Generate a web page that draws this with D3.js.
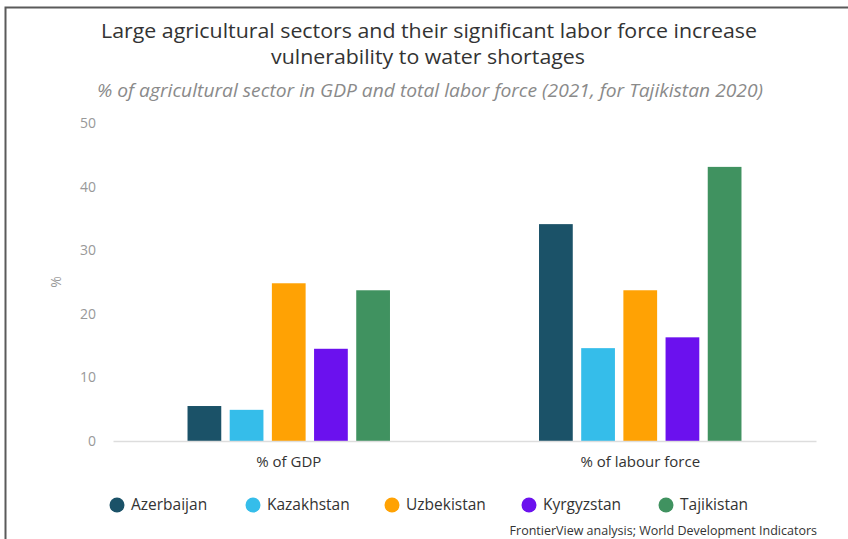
<!DOCTYPE html>
<html>
<head>
<meta charset="utf-8">
<script src="https://cdn.jsdelivr.net/npm/d3@7"></script>
<style>
  html, body { margin: 0; padding: 0; background: #fff; }
  svg { display: block; font-family: "Open Sans", sans-serif; }
</style>
</head>
<body>
<svg id="chart" width="848" height="539"></svg>
<script>
// Agricultural share of GDP and of the labour force, by country
const groups = ["% of GDP", "% of labour force"];
const countries = ["Azerbaijan", "Kazakhstan", "Uzbekistan", "Kyrgyzstan", "Tajikistan"];
const gdpShare = [5.5, 4.9, 24.8, 14.5, 23.7];
const labourShare = [34.1, 14.6, 23.7, 16.3, 43.1];
const countryColors = ["#1b5268", "#35bdea", "#ffa204", "#6b11ee", "#409260"];
const yTicks = [0, 10, 20, 30, 40, 50];

const seriesByGroup = [gdpShare, labourShare];

const svg = d3.select("#chart");
const W = 848, H = 539;
const plot = { left: 113, right: 816, top: 123, bottom: 441 };

// frame lines along the top and left edges
svg.append("path")
  .attr("d", `M5.5,${H} V7.5 H${W}`)
  .attr("fill", "none")
  .attr("stroke", "#5a5a5a")
  .attr("stroke-width", 2);

// title
const title = svg.append("text")
  .attr("text-anchor", "middle")
  .attr("fill", "#333")
  .attr("font-size", 20.5);
title.append("tspan").attr("x", 429).attr("y", 38)
  .attr("textLength", 656).attr("lengthAdjust", "spacingAndGlyphs")
  .text("Large agricultural sectors and their significant labor force increase");
title.append("tspan").attr("x", 428).attr("y", 64)
  .attr("textLength", 314).attr("lengthAdjust", "spacingAndGlyphs")
  .text("vulnerability to water shortages");

svg.append("text")
  .attr("x", 430).attr("y", 97)
  .attr("text-anchor", "middle")
  .attr("fill", "#8a8a8a")
  .attr("font-size", 17.5)
  .attr("font-style", "italic")
  .attr("textLength", 666).attr("lengthAdjust", "spacingAndGlyphs")
  .text("% of agricultural sector in GDP and total labor force (2021, for Tajikistan 2020)");

// scales
const x0 = d3.scaleBand().domain(groups)
  .range([plot.left, plot.right]).paddingInner(0.4).paddingOuter(0.2);
const x1 = d3.scaleBand().domain(countries)
  .range([0, x0.bandwidth()]).paddingInner(0.2).paddingOuter(0.1);
const y = d3.scaleLinear().domain([0, 50]).range([plot.bottom, plot.top]);

// y axis labels (no axis line)
const yAxis = svg.append("g")
  .attr("transform", `translate(${plot.left - 17},0)`)
  .call(d3.axisLeft(y).tickValues(yTicks).tickSize(0).tickPadding(0));
yAxis.select(".domain").remove();
yAxis.selectAll("text")
  .attr("fill", "#999")
  .attr("font-size", 14)
  .attr("font-family", "Open Sans, sans-serif");

svg.append("text")
  .attr("transform", `translate(61,${(plot.top + plot.bottom) / 2}) rotate(-90)`)
  .attr("text-anchor", "middle")
  .attr("fill", "#999")
  .attr("font-size", 14)
  .text("%");

// bars
const bars = svg.append("g");
groups.forEach((g, gi) => {
  bars.append("g")
    .attr("transform", `translate(${x0(g)},0)`)
    .selectAll("rect")
    .data(countries.map((c, ci) => ({ c, v: seriesByGroup[gi][ci], color: countryColors[ci] })))
    .join("rect")
    .attr("x", d => x1(d.c))
    .attr("width", x1.bandwidth())
    .attr("y", d => y(d.v))
    .attr("height", d => y(0) - y(d.v))
    .attr("fill", d => d.color);
});

// x axis baseline and category labels
const xAxis = svg.append("g")
  .attr("transform", `translate(0,${plot.bottom})`)
  .call(d3.axisBottom(x0).tickSize(0).tickPadding(15));
xAxis.select(".domain").attr("stroke", "#ddd").attr("stroke-width", 1.5);
xAxis.selectAll("text")
  .attr("fill", "#333")
  .attr("font-size", 15)
  .attr("font-family", "Open Sans, sans-serif");

// legend
const legendX = [117, 253, 392, 529, 666];
const legend = svg.append("g");
countries.forEach((c, i) => {
  const item = legend.append("g").attr("transform", `translate(${legendX[i]},505)`);
  item.append("circle").attr("r", 7.5).attr("fill", countryColors[i]);
  item.append("text").attr("x", 14).attr("dy", "0.35em")
    .attr("fill", "#333").attr("font-size", 15.5).text(c);
});

// source note
svg.append("text")
  .attr("x", 817).attr("y", 535)
  .attr("text-anchor", "end")
  .attr("fill", "#333")
  .attr("font-size", 12.5)
  .text("FrontierView analysis; World Development Indicators");
</script>
</body>
</html>
